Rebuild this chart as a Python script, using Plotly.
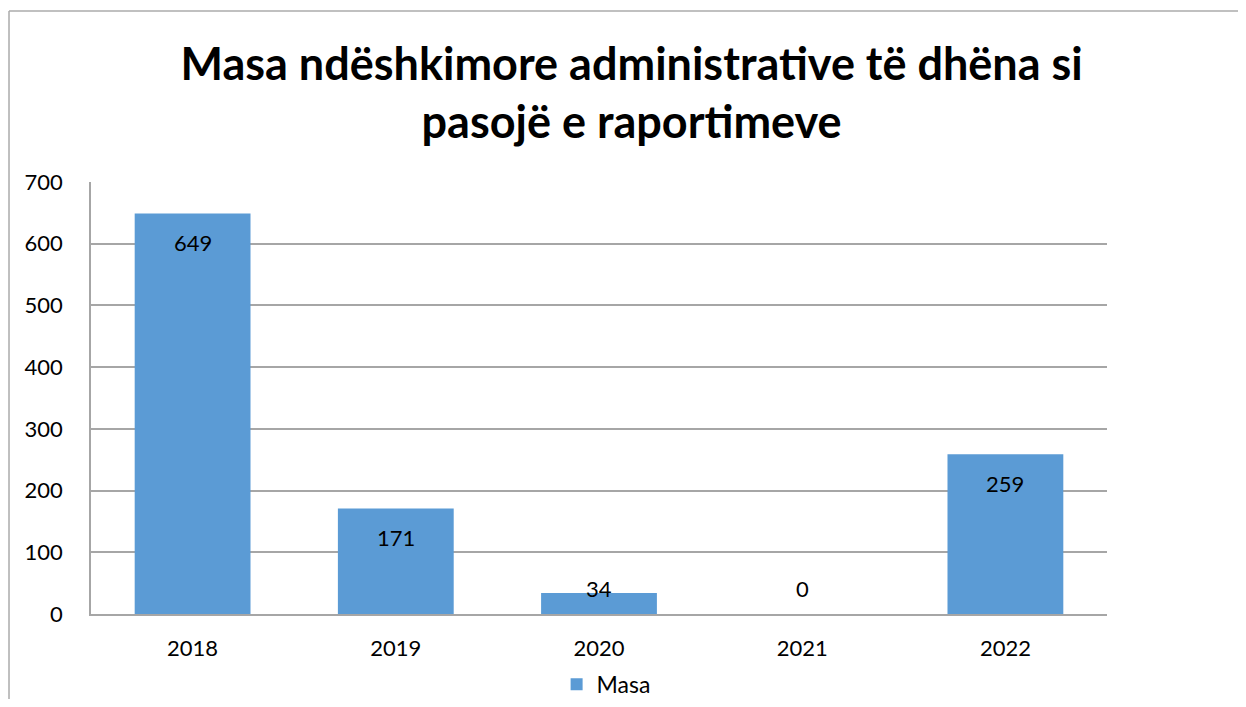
import plotly.graph_objects as go

years = ["2018", "2019", "2020", "2021", "2022"]
values = [649, 171, 34, 0, 259]
series_name = "Masa"
title_text = "Masa ndëshkimore administrative të dhëna si<br>pasojë e raportimeve"
y_ticks = [0, 100, 200, 300, 400, 500, 600, 700]

BAR = "#5B9BD5"
GRID = "#A6A6A6"
FONT = "Lato, 'Open Sans', sans-serif"

pos = list(range(len(years)))

fig = go.Figure()
fig.add_trace(go.Bar(x=pos, y=values, name=series_name, marker=dict(color=BAR, line=dict(width=0)),
                     width=0.57, showlegend=True))

for i, v in zip(pos, values):
    if v >= 80:
        fig.add_annotation(x=i, y=v, text=str(v), showarrow=False, yanchor="middle", yshift=-29,
                           font=dict(size=22, color="#000000", family=FONT))
    else:
        fig.add_annotation(x=i, y=0, text=str(v), showarrow=False, yanchor="middle", yshift=26,
                           font=dict(size=22, color="#000000", family=FONT))

# outer chart border (top and left)
fig.add_shape(type="line", xref="paper", yref="paper", x0=-0.0807, x1=1.2, y0=1.3958, y1=1.3958,
              line=dict(color="#ABABAB", width=1.5))
fig.add_shape(type="line", xref="paper", yref="paper", x0=-0.0807, x1=-0.0807, y0=1.3958, y1=-0.3,
              line=dict(color="#ABABAB", width=1.5))

fig.update_layout(
    width=1230, height=691,
    margin=dict(l=83, r=131, t=174, b=85, autoexpand=False),
    paper_bgcolor="white", plot_bgcolor="white",
    title=dict(text=title_text, x=0.507, xanchor="center", y=0.896, yanchor="top",
               font=dict(size=45, color="#000000", family=FONT, weight="bold")),
    font=dict(family=FONT, size=22, color="#000000"),
    legend=dict(orientation="h", x=0.507, xanchor="center", yref="paper", y=-0.163, yanchor="middle",
                font=dict(size=23, family=FONT), borderwidth=0, itemwidth=30),
    xaxis=dict(range=[-0.5, 4.5], tickvals=pos, ticktext=years, showline=True, linecolor=GRID,
               linewidth=1.5, ticks="", showgrid=False, zeroline=False,
               tickfont=dict(size=22), ticklabelstandoff=14),
    yaxis=dict(range=[0, 700], tickvals=y_ticks, showgrid=True, gridcolor=GRID, gridwidth=1.5,
               showline=True, linecolor=GRID, linewidth=1.5, zeroline=False, ticks="",
               tickfont=dict(size=22), ticklabelstandoff=22),
)

fig.write_html("out.html")
